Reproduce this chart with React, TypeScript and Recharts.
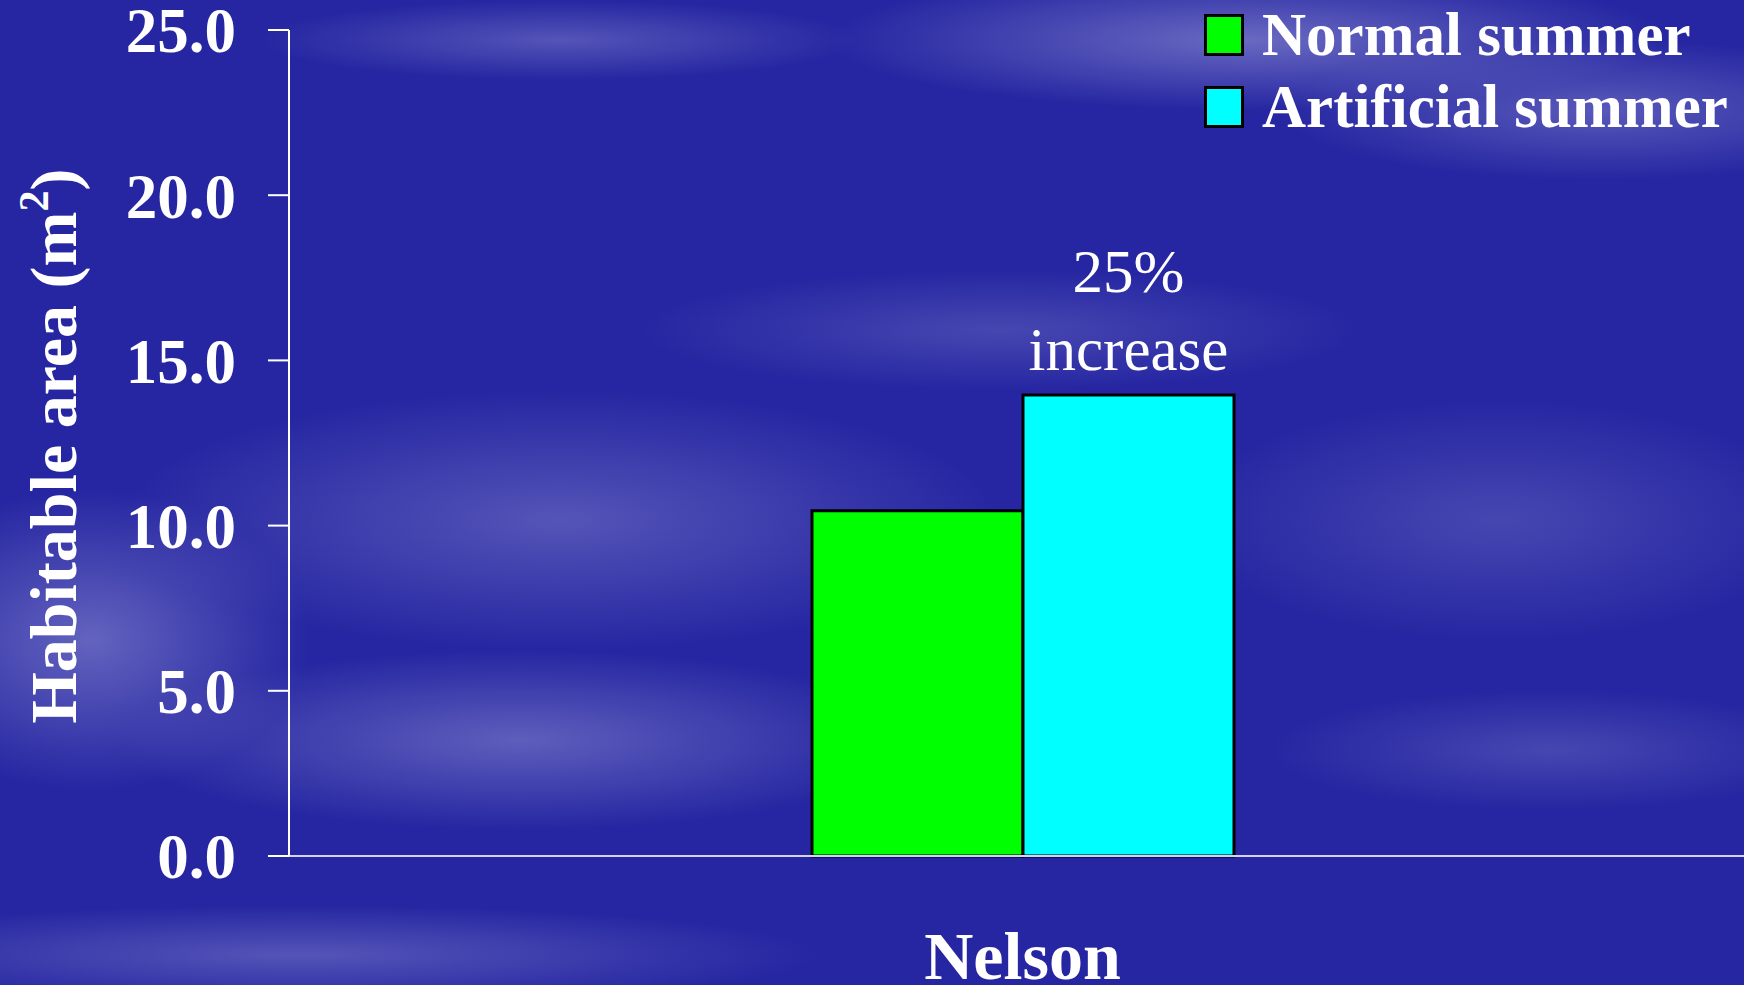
import { BarChart, Bar, XAxis, YAxis, LabelList } from "recharts";

const sites = ["Nelson"];
const normalSummer = [10.45];
const artificialSummer = [13.95];
const yTicks = [0, 5, 10, 15, 20, 25];
const seriesNames = ["Normal summer", "Artificial summer"];
const seriesColors = ["#00ff00", "#00ffff"];
const increaseNote = ["25%", "increase"];

const data = sites.map((name, i) => ({
  name,
  normal: normalSummer[i],
  artificial: artificialSummer[i],
}));

const FONT = '"Liberation Serif", "Times New Roman", serif';

// soft cloudy streaks over the blue slide background
const background = [
  "radial-gradient(ellipse 420px 70px at 1250px 40px, rgba(150,150,215,0.6), rgba(150,150,215,0) 100%)",
  "radial-gradient(ellipse 320px 70px at 1600px 110px, rgba(140,140,210,0.5), rgba(140,140,210,0) 100%)",
  "radial-gradient(ellipse 300px 40px at 560px 40px, rgba(140,140,210,0.45), rgba(140,140,210,0) 100%)",
  "radial-gradient(ellipse 440px 130px at 560px 520px, rgba(130,130,205,0.5), rgba(130,130,205,0) 100%)",
  "radial-gradient(ellipse 400px 90px at 520px 740px, rgba(140,140,210,0.55), rgba(140,140,210,0) 100%)",
  "radial-gradient(ellipse 220px 150px at 90px 640px, rgba(140,140,210,0.6), rgba(140,140,210,0) 100%)",
  "radial-gradient(ellipse 360px 60px at 1000px 330px, rgba(120,120,200,0.4), rgba(120,120,200,0) 100%)",
  "radial-gradient(ellipse 320px 120px at 1500px 520px, rgba(120,120,200,0.4), rgba(120,120,200,0) 100%)",
  "radial-gradient(ellipse 520px 50px at 300px 955px, rgba(130,130,205,0.5), rgba(130,130,205,0) 100%)",
  "radial-gradient(ellipse 280px 60px at 1550px 750px, rgba(120,120,200,0.4), rgba(120,120,200,0) 100%)",
  "#2626a2",
].join(", ");

const YLabel = () => (
  <text
    transform="translate(76, 446) rotate(-90)"
    textAnchor="middle"
    fill="#ffffff"
    fontFamily={FONT}
    fontWeight="bold"
    fontSize={66}
  >
    Habitable area (m
    <tspan fontSize={42} dy={-28}>
      2
    </tspan>
    <tspan dy={28}>)</tspan>
  </text>
);

const renderNote = (props: any) => {
  const { x, y, width } = props;
  const cx = x + width / 2;
  return (
    <g>
      <text x={cx} y={y - 103} textAnchor="middle" fill="#ffffff" fontFamily={FONT} fontSize={61}>
        {increaseNote[0]}
      </text>
      <text x={cx} y={y - 25} textAnchor="middle" fill="#ffffff" fontFamily={FONT} fontSize={61}>
        {increaseNote[1]}
      </text>
    </g>
  );
};

const LegendBox = () => (
  <div style={{ position: "absolute", left: 1204, top: -1, fontFamily: FONT }}>
    {seriesNames.map((n, i) => (
      <div key={n} style={{ display: "flex", alignItems: "center", height: 72 }}>
        <div
          style={{
            width: 34,
            height: 36,
            background: seriesColors[i],
            border: "3px solid #000",
            marginRight: 18,
          }}
        />
        <span style={{ color: "#fff", fontSize: 61, fontWeight: "bold", lineHeight: "72px", whiteSpace: "nowrap" }}>
          {n}
        </span>
      </div>
    ))}
  </div>
);

export default function App() {
  return (
    <div
      style={{
        position: "absolute",
        left: 0,
        top: 0,
        width: 1744,
        height: 985,
        background,
        overflow: "hidden",
      }}
    >
      <BarChart
        width={1744}
        height={985}
        data={data}
        margin={{ top: 30, right: 0, left: 0, bottom: 0 }}
        barCategoryGap={511}
        barGap={0}
      >
        <XAxis
          dataKey="name"
          height={129}
          padding={{ left: 12, right: 0 }}
          tickLine={false}
          tickSize={0}
          tickMargin={75}
          axisLine={{ stroke: "#d4d4f2", strokeWidth: 2 }}
          tick={{ fill: "#ffffff", fontSize: 68, fontWeight: "bold", fontFamily: FONT }}
        />
        <YAxis
          width={289}
          domain={[0, 25]}
          ticks={yTicks}
          interval={0}
          tickFormatter={(v: number) => v.toFixed(1)}
          tickSize={21}
          tickMargin={32}
          axisLine={{ stroke: "#ffffff", strokeWidth: 2 }}
          tickLine={{ stroke: "#ffffff", strokeWidth: 2 }}
          tick={{ fill: "#ffffff", fontSize: 63, fontWeight: "bold", fontFamily: FONT }}
          label={<YLabel />}
        />
        <Bar
          dataKey="normal"
          name={seriesNames[0]}
          fill={seriesColors[0]}
          stroke="#000000"
          strokeWidth={3}
          isAnimationActive={false}
        />
        <Bar
          dataKey="artificial"
          name={seriesNames[1]}
          fill={seriesColors[1]}
          stroke="#000000"
          strokeWidth={3}
          isAnimationActive={false}
        >
          <LabelList dataKey="artificial" content={renderNote} />
        </Bar>
      </BarChart>
      <LegendBox />
    </div>
  );
}
